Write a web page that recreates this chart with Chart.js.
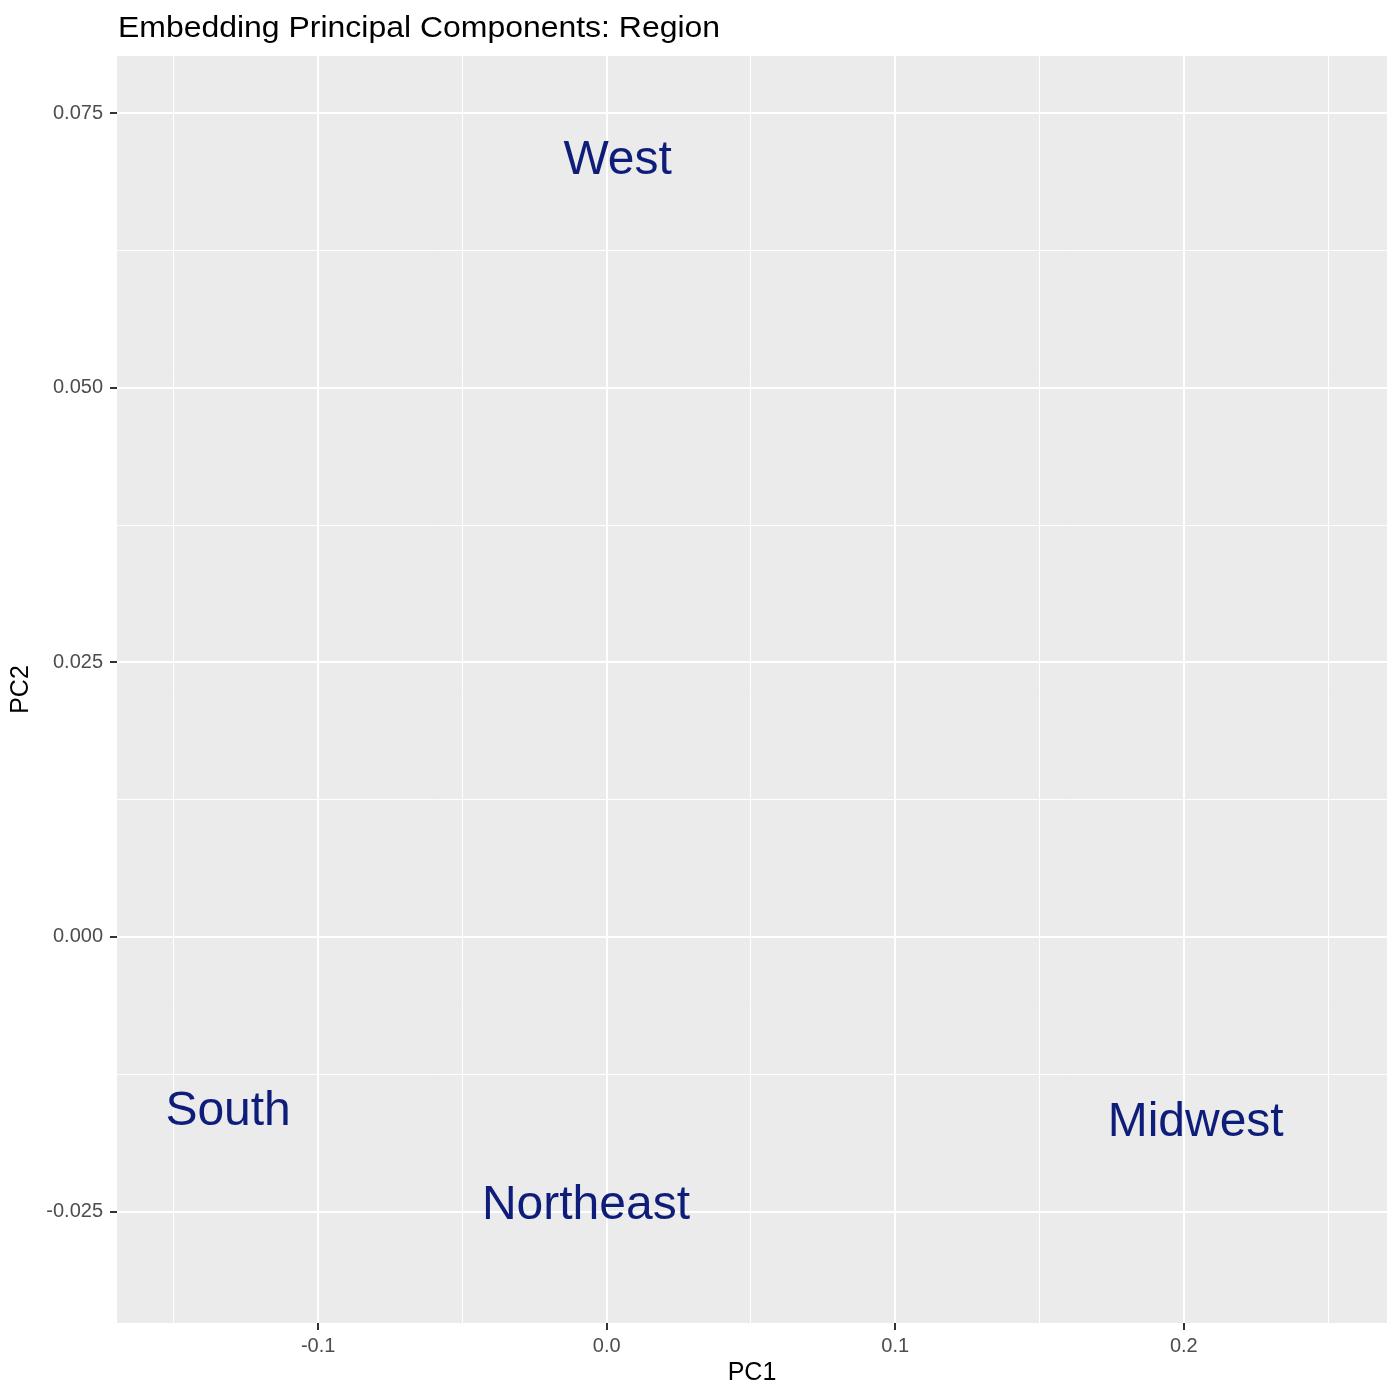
<!DOCTYPE html>
<html>
<head>
<meta charset="utf-8">
<script src="https://cdn.jsdelivr.net/npm/chart.js@4.4.1/dist/chart.umd.min.js"></script>
<style>
  html, body { margin: 0; padding: 0; background: #ffffff; }
  #wrap { width: 1400px; height: 1400px; position: relative; }
</style>
</head>
<body>
<div id="wrap"><canvas id="c" width="1400" height="1400"></canvas></div>
<script>
// ---- Data ----
const regions = ['West', 'South', 'Northeast', 'Midwest'];
const pc1 = [0.0038, -0.1312, -0.0072, 0.2041];
const pc2 = [0.0710, -0.0156, -0.0241, -0.0166];

// ---- Axis ticks ----
const xMajorTicks = [-0.1, 0.0, 0.1, 0.2];
const xTickLabels = ['-0.1', '0.0', '0.1', '0.2'];
const xMinorTicks = [-0.15, -0.05, 0.05, 0.15, 0.25];
const yMajorTicks = [-0.025, 0.0, 0.025, 0.05, 0.075];
const yTickLabels = ['-0.025', '0.000', '0.025', '0.050', '0.075'];
const yMinorTicks = [-0.0125, 0.0125, 0.0375, 0.0625];

const xRange = [-0.1697, 0.2704];
const yRange = [-0.03515, 0.08021];

const titleText = 'Embedding Principal Components: Region';
const xTitle = 'PC1';
const yTitle = 'PC2';

const FONT = '"Liberation Sans", Arial, Helvetica, sans-serif';
const LABEL_COLOR = '#0e1d7a';

function isMajor(list, v) {
  return list.some(m => Math.abs(m - v) < 1e-9);
}
function labelFor(majors, labels, v) {
  const i = majors.findIndex(m => Math.abs(m - v) < 1e-9);
  return i >= 0 ? labels[i] : '';
}

const panelPlugin = {
  id: 'panel',
  beforeDraw(chart) {
    const { ctx, chartArea } = chart;
    ctx.save();
    ctx.fillStyle = '#EBEBEB';
    ctx.fillRect(chartArea.left, chartArea.top, chartArea.right - chartArea.left, chartArea.bottom - chartArea.top);
    ctx.restore();
  },
  afterDraw(chart) {
    const { ctx } = chart;
    ctx.save();
    ctx.fillStyle = '#000000';
    ctx.font = '30px ' + FONT;
    ctx.textAlign = 'left';
    ctx.textBaseline = 'alphabetic';
    const x0 = chart.chartArea.left + 1;
    ctx.translate(x0, 37);
    ctx.scale(1.065, 1);
    ctx.fillText(titleText, 0, 0);
    ctx.restore();
  }
};

const textLabelPlugin = {
  id: 'textLabels',
  afterDatasetsDraw(chart) {
    const { ctx } = chart;
    const meta = chart.getDatasetMeta(0);
    const size = 48;
    ctx.save();
    ctx.fillStyle = LABEL_COLOR;
    ctx.font = size + 'px ' + FONT;
    ctx.textAlign = 'center';
    ctx.textBaseline = 'alphabetic';
    meta.data.forEach((pt, i) => {
      ctx.fillText(regions[i], pt.x, pt.y + size * 0.716 / 2);
    });
    ctx.restore();
  }
};

const points = regions.map((r, i) => ({ x: pc1[i], y: pc2[i] }));

new Chart(document.getElementById('c'), {
  type: 'scatter',
  data: {
    datasets: [{
      label: 'Region',
      data: points,
      pointRadius: 0,
      pointHoverRadius: 0,
      backgroundColor: 'rgba(0,0,0,0)',
      borderColor: 'rgba(0,0,0,0)'
    }]
  },
  options: {
    responsive: false,
    animation: false,
    events: [],
    layout: { padding: { left: 0, right: 13, top: 56, bottom: 0 } },
    plugins: {
      legend: { display: false },
      tooltip: { enabled: false },
      title: { display: false }
    },
    scales: {
      x: {
        type: 'linear',
        position: 'bottom',
        min: xRange[0],
        max: xRange[1],
        afterBuildTicks(scale) {
          scale.ticks = xMajorTicks.concat(xMinorTicks).sort((a, b) => a - b).map(v => ({ value: v }));
        },
        afterFit(scale) { scale.height = 77; },
        border: { display: false },
        grid: {
          color: '#FFFFFF',
          lineWidth: (c) => (c.tick && isMajor(xMajorTicks, c.tick.value)) ? 2 : 1,
          tickColor: (c) => (c.tick && isMajor(xMajorTicks, c.tick.value)) ? '#333333' : 'rgba(0,0,0,0)',
          tickWidth: 2,
          tickLength: 7,
          drawTicks: true
        },
        ticks: {
          autoSkip: false,
          maxRotation: 0,
          minRotation: 0,
          padding: 4,
          color: '#4D4D4D',
          font: { family: FONT, size: 20 },
          callback: (v) => labelFor(xMajorTicks, xTickLabels, v)
        },
        title: {
          display: true,
          text: xTitle,
          color: '#000000',
          font: { family: FONT, size: 25 },
          padding: { top: 0, bottom: 12 }
        }
      },
      y: {
        type: 'linear',
        position: 'left',
        min: yRange[0],
        max: yRange[1],
        afterBuildTicks(scale) {
          scale.ticks = yMajorTicks.concat(yMinorTicks).sort((a, b) => a - b).map(v => ({ value: v }));
        },
        afterFit(scale) { scale.width = 117; },
        border: { display: false },
        grid: {
          color: '#FFFFFF',
          lineWidth: (c) => (c.tick && isMajor(yMajorTicks, c.tick.value)) ? 2 : 1,
          tickColor: (c) => (c.tick && isMajor(yMajorTicks, c.tick.value)) ? '#333333' : 'rgba(0,0,0,0)',
          tickWidth: 2,
          tickLength: 7,
          drawTicks: true
        },
        ticks: {
          autoSkip: false,
          padding: 7,
          color: '#4D4D4D',
          font: { family: FONT, size: 20 },
          callback: (v) => labelFor(yMajorTicks, yTickLabels, v)
        },
        title: {
          display: true,
          text: yTitle,
          color: '#000000',
          font: { family: FONT, size: 25 },
          padding: { top: 6, bottom: 0 }
        }
      }
    }
  },
  plugins: [panelPlugin, textLabelPlugin]
});
</script>
</body>
</html>
